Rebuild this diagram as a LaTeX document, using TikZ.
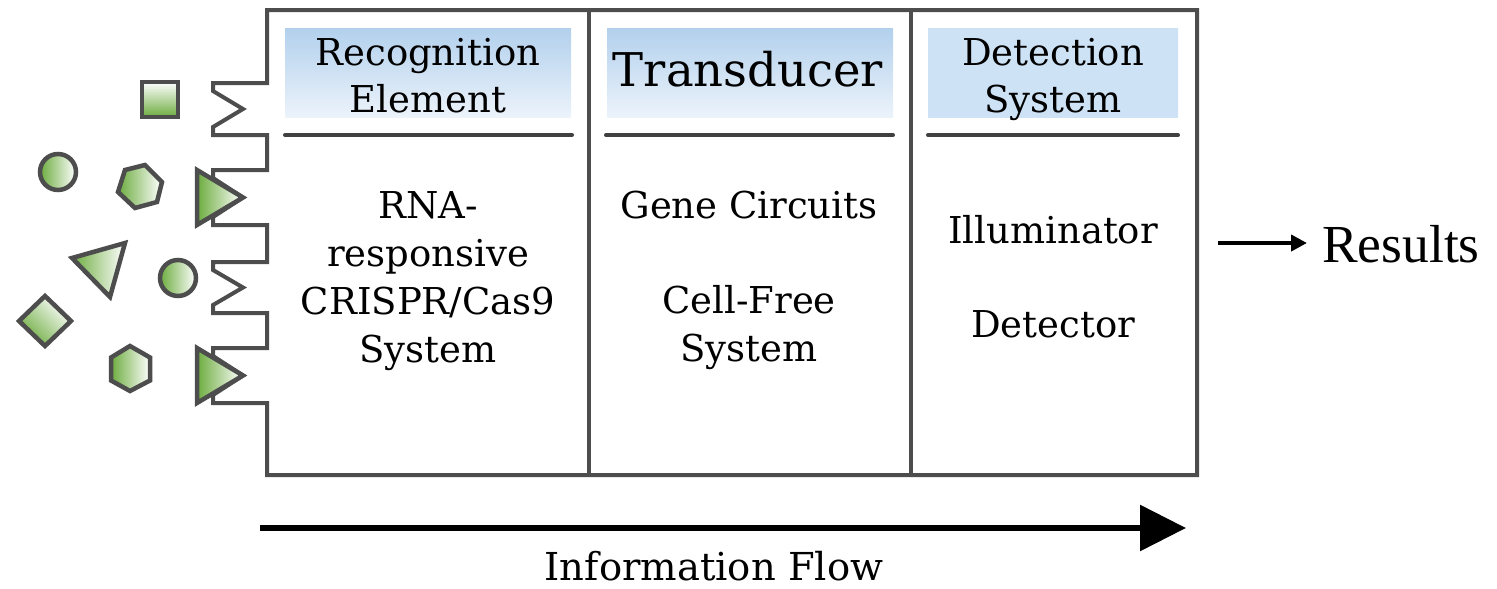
\documentclass[tikz,border=0pt]{standalone}
\usepackage{fontspec}
\setmainfont{DejaVu Serif}
\newfontfamily\resfont{Liberation Serif}
\usetikzlibrary{arrows.meta}
\definecolor{lgreen}{RGB}{108,172,62}
\definecolor{edgegray}{RGB}{77,77,77}
\definecolor{sepgray}{RGB}{64,64,64}
\definecolor{hblue}{RGB}{178,208,236}
\definecolor{hpale}{RGB}{236,243,251}
\definecolor{hmid}{RGB}{184,212,238}
\definecolor{hlight}{RGB}{206,226,245}
\tikzset{
  frame/.style={draw=edgegray, line width=4pt, line join=miter},
  ligand/.style={draw=edgegray, line width=4.5pt, line join=miter},
  sepline/.style={draw=sepgray, line width=4pt, line cap=round},
  lbl/.style={inner sep=0pt, anchor=base, font=\fontsize{37}{44}\selectfont},
  flowlbl/.style={inner sep=0pt, anchor=base, font=\fontsize{38.5}{44}\selectfont},
  biglbl/.style={inner sep=0pt, anchor=base, font=\fontsize{46.5}{52}\selectfont},
  reslbl/.style={inner sep=0pt, anchor=base west, font=\resfont\fontsize{53.5}{60}\selectfont},
}
\begin{document}
\begin{tikzpicture}[x=1pt,y=-1pt]
\useasboundingbox (0,0) rectangle (1497,589);

% header shaded boxes
\path[top color=hblue, bottom color=hpale] (285,28) rectangle (571,117);
\path[top color=hblue, bottom color=hpale] (607,28) rectangle (893,117);
\path[top color=hlight, middle color=hmid, bottom color=hlight] (928,28) rectangle (1178,117);

% main frame with receptor profile
\draw[frame] (267,10) -- (1197,10) -- (1197,475) -- (267,475)
  -- (267,403) -- (213,403) -- (213,395) -- (243,375.5) -- (213,356) -- (213,348) -- (267,348)
  -- (267,313) -- (213,313) -- (213,305) -- (243,287.5) -- (213,270) -- (213,262) -- (267,262)
  -- (267,225) -- (213,225) -- (213,217) -- (243,197.5) -- (213,178) -- (213,170) -- (267,170)
  -- (267,135) -- (213,135) -- (213,127) -- (243,109) -- (213,91) -- (213,83) -- (267,83)
  -- cycle;
\draw[frame] (589,10) -- (589,475);
\draw[frame] (911,10) -- (911,475);

% separators
\draw[sepline] (285,135) -- (572,135);
\draw[sepline] (606,135) -- (893,135);
\draw[sepline] (928,135) -- (1178,135);

% ligands
\path[ligand, top color=white, bottom color=lgreen] (142,82) rectangle (178,117);
\path[ligand, left color=lgreen, right color=white] (58,172) circle (18);
\path[ligand, left color=lgreen, right color=white] (125,170) -- (145,165) -- (162,182) -- (157,202) -- (135,208) -- (118,192) -- cycle;
\path[ligand, left color=lgreen, right color=white] (197,170) -- (243,197.5) -- (197,225) -- cycle;
\path[ligand, left color=lgreen, right color=white] (72,258) -- (125,243) -- (110,297) -- cycle;
\path[ligand, left color=lgreen, right color=white] (178,278) circle (18);
\path[ligand, top color=white, bottom color=lgreen, shading angle=-45] (45,296) -- (71,321) -- (45,346) -- (19,321) -- cycle;
\path[ligand, left color=lgreen, right color=white] (130,346) -- (150,357.5) -- (150,380.5) -- (130,391) -- (111,380.5) -- (111,357.5) -- cycle;
\path[ligand, left color=lgreen, right color=white] (197,348) -- (243,375.5) -- (197,403) -- cycle;

% headers
\node[lbl] (rec1) at (428,65) {Recognition};
\node[lbl] (rec2) at (428,112) {Element};
\node[biglbl] (trans) at (748,86) {Transducer};
\node[lbl] (det1) at (1053,65) {Detection};
\node[lbl] (det2) at (1053,112) {System};

% body texts
\node[lbl] (b1) at (428,218) {RNA-};
\node[lbl] (b2) at (428,266) {responsive};
\node[lbl] (b3) at (428,314) {CRISPR/Cas9};
\node[lbl] (b4) at (428,362) {System};

\node[lbl] (g1) at (749,218) {Gene Circuits};
\node[lbl] (g2) at (749,313) {Cell-Free};
\node[lbl] (g3) at (749,361) {System};

\node[lbl] (d1) at (1053,243) {Illuminator};
\node[lbl] (d2) at (1053,337) {Detector};

% results
\node[reslbl] (res) at (1322,262) {Results};
\coordinate (rstart) at (1218,243);
\draw[line width=4pt, -{Triangle[length=16pt,width=16pt]}] (rstart) -- ([xshift=-15pt]rstart -| res.west);

% information flow
\coordinate (fa) at (260,528);
\coordinate (fb) at (1186,528);
\draw[line width=6pt, -{Triangle[length=46pt,width=45pt]}] (fa) -- (fb);
\node[flowlbl] (info) at (714,580) {Information Flow};
\end{tikzpicture}
\end{document}
